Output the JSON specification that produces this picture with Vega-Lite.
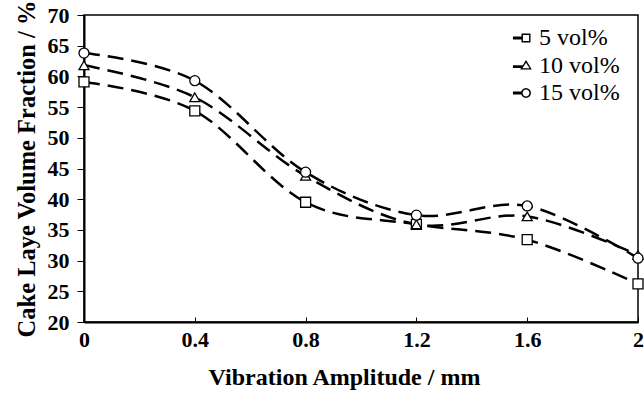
{
  "$schema": "https://vega.github.io/schema/vega-lite/v6.json",
  "autosize": "none",
  "width": 554,
  "height": 307,
  "padding": {"left": 84, "top": 15, "right": 6, "bottom": 77},
  "background": "white",
  "config": {
    "view": {"stroke": "black", "strokeWidth": 1.5},
    "font": "Liberation Serif"
  },
  "data": {
    "values": [
      {"amp": 0, "frac": 59.1, "series": "5 vol%"},
      {"amp": 0.4, "frac": 54.4, "series": "5 vol%"},
      {"amp": 0.8, "frac": 39.5, "series": "5 vol%"},
      {"amp": 1.2, "frac": 35.9, "series": "5 vol%"},
      {"amp": 1.6, "frac": 33.4, "series": "5 vol%"},
      {"amp": 2, "frac": 26.2, "series": "5 vol%"},
      {"amp": 0, "frac": 61.8, "series": "10 vol%"},
      {"amp": 0.4, "frac": 56.6, "series": "10 vol%"},
      {"amp": 0.8, "frac": 43.8, "series": "10 vol%"},
      {"amp": 1.2, "frac": 35.9, "series": "10 vol%"},
      {"amp": 1.6, "frac": 37.2, "series": "10 vol%"},
      {"amp": 2, "frac": 30.9, "series": "10 vol%"},
      {"amp": 0, "frac": 63.8, "series": "15 vol%"},
      {"amp": 0.4, "frac": 59.3, "series": "15 vol%"},
      {"amp": 0.8, "frac": 44.4, "series": "15 vol%"},
      {"amp": 1.2, "frac": 37.4, "series": "15 vol%"},
      {"amp": 1.6, "frac": 38.9, "series": "15 vol%"},
      {"amp": 2, "frac": 30.4, "series": "15 vol%"}
    ]
  },
  "encoding": {
    "x": {
      "field": "amp", "type": "quantitative",
      "scale": {"domain": [0, 2], "nice": false, "zero": false},
      "axis": {
        "title": "Vibration Amplitude / mm",
        "values": [0, 0.4, 0.8, 1.2, 1.6, 2],
        "format": ".1~f",
        "grid": false,
        "domainColor": "black", "domainWidth": 2,
        "tickColor": "black", "tickWidth": 1, "tickSize": -5,
        "labelFont": "Liberation Serif", "labelFontSize": 22, "labelFontWeight": "bold", "labelColor": "black",
        "labelPadding": 12, "labelFlush": false,
        "titleFont": "Liberation Serif", "titleFontSize": 24, "titleFontWeight": "bold", "titleColor": "black",
        "titlePadding": 15, "titleX": 260, "titleAlign": "center"
      }
    },
    "y": {
      "field": "frac", "type": "quantitative",
      "scale": {"domain": [20, 70], "nice": false, "zero": false},
      "axis": {
        "title": "Cake Laye Volume Fraction / %",
        "values": [20, 25, 30, 35, 40, 45, 50, 55, 60, 65, 70],
        "grid": false,
        "domainColor": "black", "domainWidth": 2,
        "tickColor": "black", "tickWidth": 1, "tickSize": 7,
        "labelFont": "Liberation Serif", "labelFontSize": 22, "labelFontWeight": "bold", "labelColor": "black",
        "labelPadding": 8,
        "titleFont": "Liberation Serif", "titleFontSize": 24.5, "titleFontWeight": "bold", "titleColor": "black",
        "titlePadding": 8
      }
    }
  },
  "layer": [
    {
      "mark": {"type": "line", "interpolate": "cardinal", "color": "black", "strokeWidth": 2.5, "strokeDash": [16, 8]},
      "encoding": {"detail": {"field": "series"}}
    },
    {
      "mark": {"type": "point", "filled": true, "fill": "white", "stroke": "black", "strokeWidth": 1.3, "size": 100, "opacity": 1},
      "encoding": {
        "shape": {
          "field": "series", "type": "nominal",
          "scale": {"domain": ["5 vol%", "10 vol%", "15 vol%"], "range": ["square", "triangle-up", "circle"]},
          "legend": null
        }
      }
    },
    {
      "mark": {"type": "point", "filled": true, "color": "black", "opacity": 0},
      "encoding": {
        "shape": {
          "field": "series", "type": "nominal",
          "scale": {"domain": ["5 vol%", "10 vol%", "15 vol%"],
            "range": [
              "M-1.45,-0.16L-0.45,-0.16L-0.45,0.16L-1.45,0.16ZM-0.5,-0.5L0.5,-0.5L0.5,0.5L-0.5,0.5ZM-0.34,-0.34L-0.34,0.34L0.34,0.34L0.34,-0.34Z",
              "M-1.45,-0.03L-0.38,-0.03L-0.38,0.29L-1.45,0.29ZM0,-0.6L0.65,0.45L-0.65,0.45ZM0,-0.3L-0.4,0.3L0.4,0.3Z",
              "M-1.45,-0.16L-0.5,-0.16L-0.5,0.16L-1.45,0.16ZM0.55,0L0.508,0.2105L0.389,0.389L0.2105,0.508L0,0.55L-0.2105,0.508L-0.389,0.389L-0.508,0.2105L-0.55,0L-0.508,-0.2105L-0.389,-0.389L-0.2105,-0.508L0,-0.55L0.2105,-0.508L0.389,-0.389L0.508,-0.2105ZM0.38,0L0.351,-0.145L0.269,-0.269L0.145,-0.351L0,-0.38L-0.145,-0.351L-0.269,-0.269L-0.351,-0.145L-0.38,0L-0.351,0.145L-0.269,0.269L-0.145,0.351L0,0.38L0.145,0.351L0.269,0.269L0.351,0.145Z"
            ]},
          "legend": {
            "title": null, "orient": "none", "legendX": 430, "legendY": 11,
            "labelFont": "Liberation Serif", "labelFontSize": 24, "labelColor": "black",
            "symbolSize": 324, "symbolStrokeWidth": 0, "symbolFillColor": "black",
            "symbolOpacity": 1,
            "rowPadding": 3.5, "labelOffset": 1,
            "encode": {"symbols": {"update": {"opacity": {"value": 1}, "fill": {"value": "black"}, "stroke": {"value": "transparent"}, "strokeWidth": {"value": 0}}}}
          }
        }
      }
    }
  ],
  "resolve": {"scale": {"shape": "independent"}}
}
